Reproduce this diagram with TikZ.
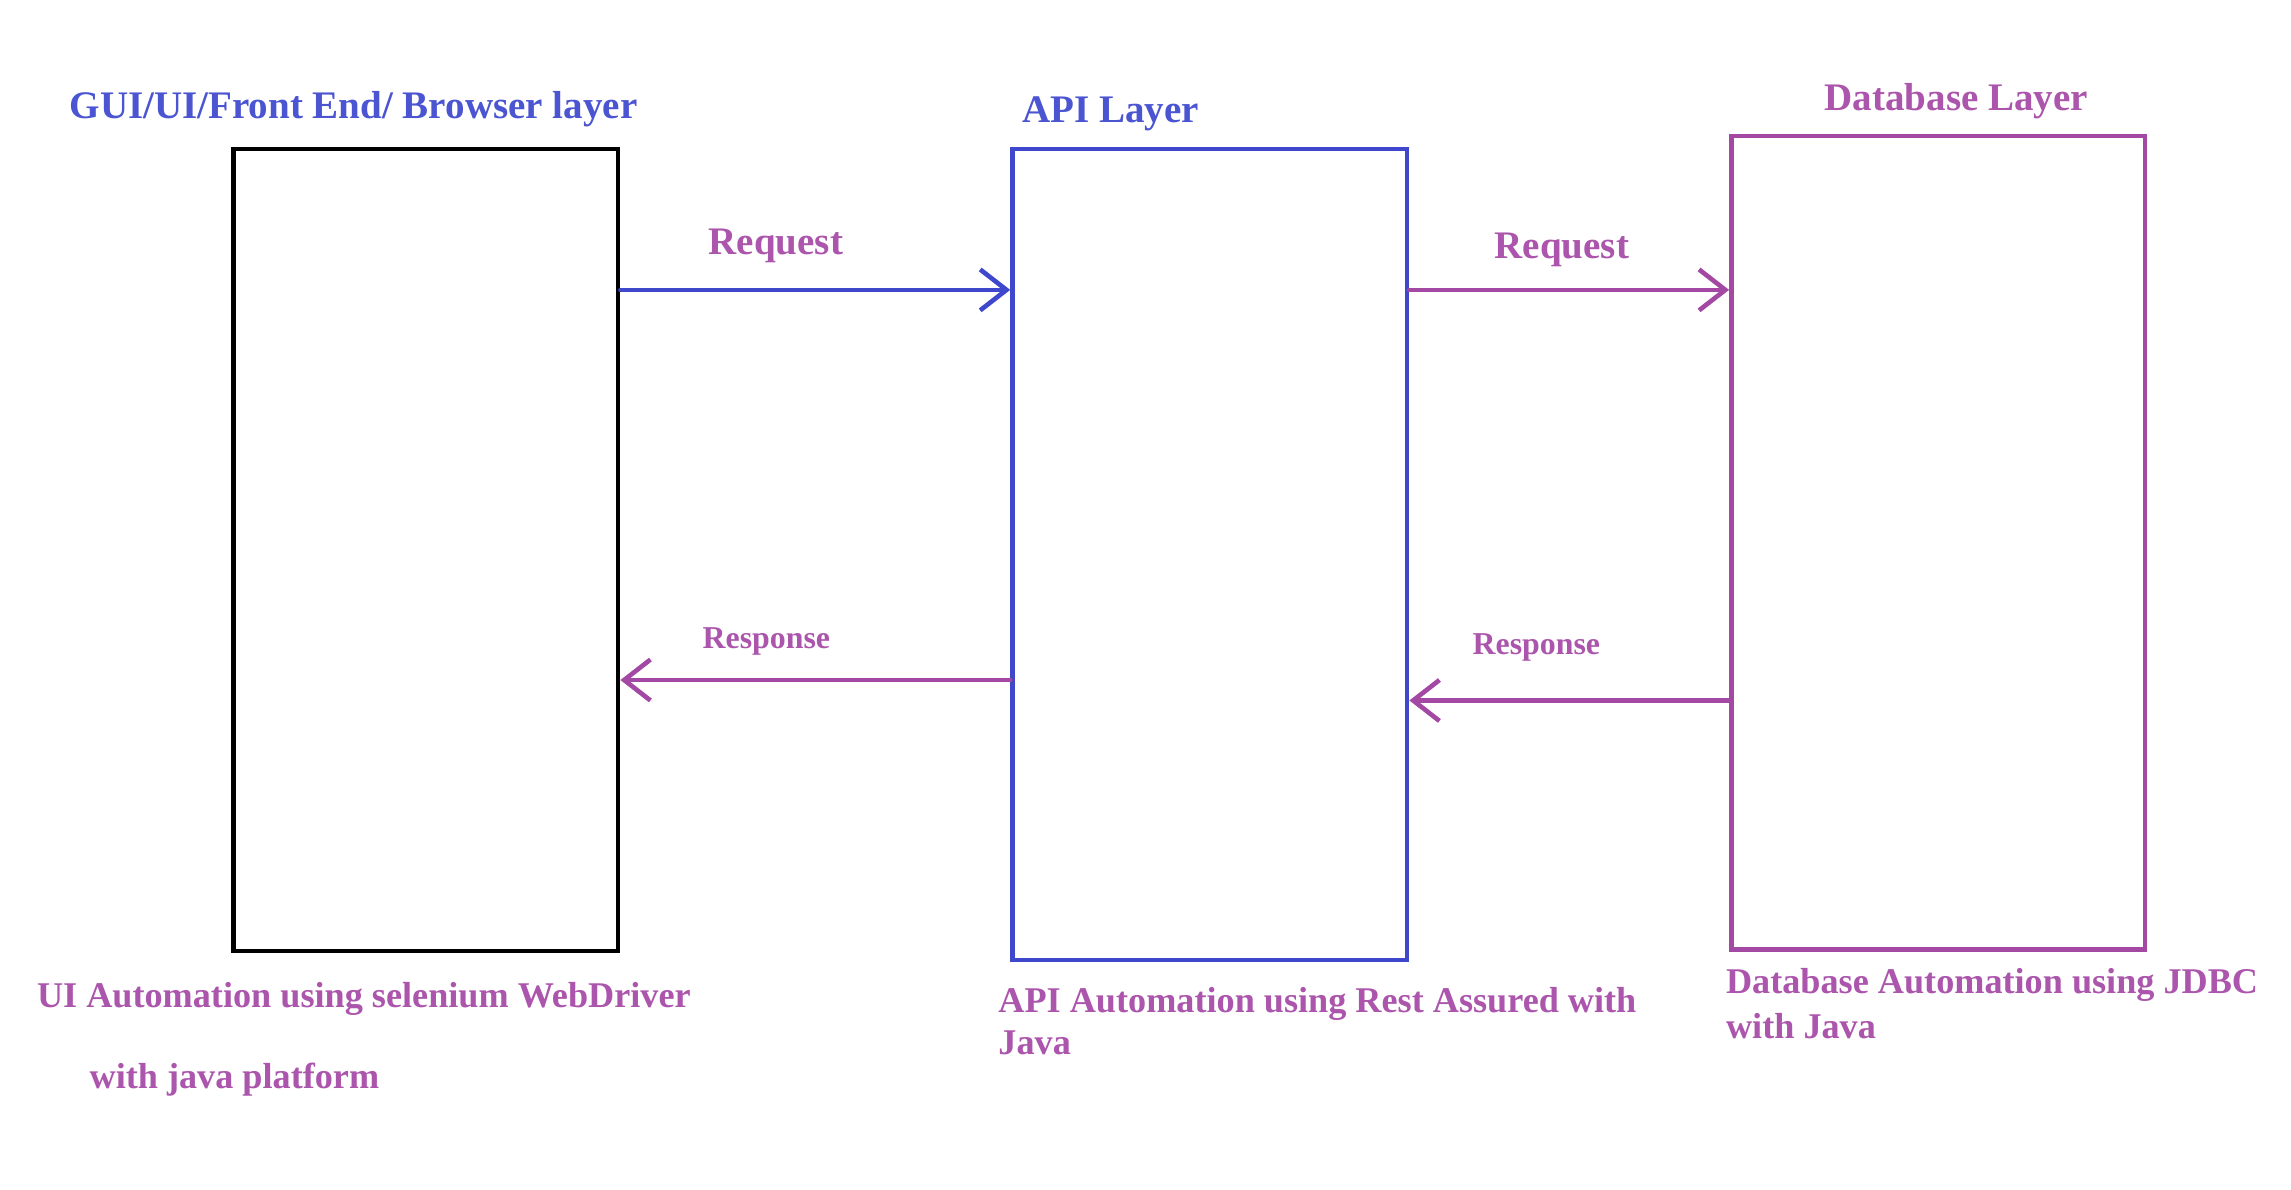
\documentclass[tikz,border=0pt]{standalone}
\usepackage{fontspec}
\setmainfont{Liberation Serif}
\usepackage{tikz}
\usetikzlibrary{arrows.meta}
\usepackage{xcolor}
\definecolor{lineblue}{HTML}{3F48CC}
\definecolor{linepurple}{HTML}{A349A4}
\definecolor{txtblue}{HTML}{4B55D2}
\definecolor{txtpurple}{HTML}{AC55AC}

\tikzset{
  layerbox/.style={draw, line width=1.8pt, rectangle, inner sep=0pt},
  flowarrow/.style={line width=1.8pt, line cap=round, -{Straight Barb[length=0.36cm, width=0.56cm, line width=1.8pt]}},
  headlabel/.style={font=\fontsize{15.2}{18}\selectfont\bfseries, inner sep=0pt},
  smalllabel/.style={font=\fontsize{12.4}{15}\selectfont\bfseries, text=txtpurple, inner sep=0pt},
  footlabel/.style={font=\fontsize{14.1}{17}\selectfont\bfseries, text=txtpurple, inner sep=0pt, anchor=west}
}

\begin{document}
\begin{tikzpicture}
      \useasboundingbox[fill=white] (0,0.04) rectangle (31.36,-16.249);
      % the three layers
      \node[layerbox, draw=black, minimum width=5.26cm, minimum height=10.98cm] (gui) at (5.83,-7.49) {};
      \node[layerbox, draw=lineblue, minimum width=5.40cm, minimum height=11.10cm] (api) at (16.56,-7.55) {};
      \node[layerbox, draw=linepurple, minimum width=5.66cm, minimum height=11.14cm] (db) at (26.53,-7.39) {};
      % titles
      \node[headlabel, text=txtblue] (guititle) at (4.84,-1.46) {GUI/UI/Front End/ Browser layer};
      \node[headlabel, text=txtblue] (apititle) at (15.2,-1.52) {API Layer};
      \node[headlabel, text=txtpurple] (dbtitle) at (26.78,-1.34) {Database Layer};
      % requests and responses
      \draw[flowarrow, lineblue] ([yshift=-1.96cm]gui.north east) -- ([yshift=-1.96cm]gui.north east -| api.west);
      \draw[flowarrow, linepurple] ([yshift=-1.96cm]api.north east) -- ([yshift=-1.96cm]api.north east -| db.west);
      \draw[flowarrow, linepurple] ([yshift=-7.3cm]api.north west) -- ([yshift=-7.3cm]api.north west -| gui.east);
      \draw[flowarrow, linepurple] ([yshift=-7.76cm]db.north west) -- ([yshift=-7.76cm]db.north west -| api.east);
      \node[headlabel, text=txtpurple] (req1) at (10.62,-3.32) {Request};
      \node[headlabel, text=txtpurple] (req2) at (21.38,-3.38) {Request};
      \node[smalllabel] (resp1) at (10.49,-8.74) {Response};
      \node[smalllabel] (resp2) at (21.03,-8.82) {Response};
      % what each layer is tested with
      \node[footlabel] (guifoot) at (0.5,-13.64) {UI Automation using selenium WebDriver};
      \node[footlabel] (guifoottwo) at (1.22,-14.74) {with java platform};
      \node[footlabel] (apifoot) at (13.66,-13.7) {API Automation using Rest Assured with};
      \node[footlabel] (apifoottwo) at (13.66,-14.24) {Java};
      \node[footlabel] (dbfoot) at (23.62,-13.44) {Database Automation using JDBC};
      \node[footlabel] (dbfoottwo) at (23.62,-14.0) {with Java};
    \end{tikzpicture}
\end{document}
